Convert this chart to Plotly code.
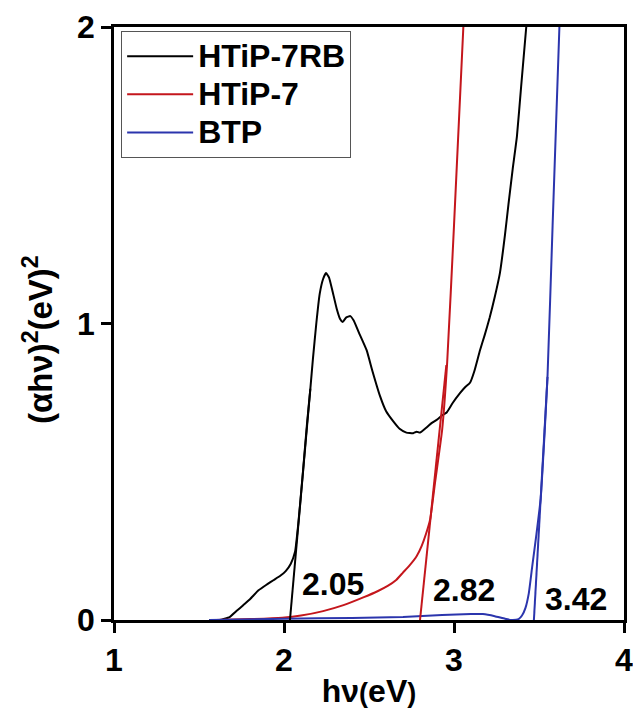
import plotly.graph_objects as go

# HTiP-7RB (black)
x_htip7rb = [1.56, 1.62, 1.68, 1.72, 1.76, 1.80, 1.85, 1.90, 1.94, 1.98, 2.01, 2.04, 2.065, 2.085,
             2.11, 2.135, 2.155, 2.17, 2.19, 2.21, 2.23, 2.247, 2.265, 2.285, 2.31, 2.33, 2.345,
             2.365, 2.39, 2.41, 2.44, 2.486, 2.52, 2.565, 2.60, 2.643, 2.68, 2.72, 2.76, 2.78,
             2.80, 2.84, 2.87, 2.898, 2.93, 2.957, 2.99, 3.035, 3.065, 3.094, 3.12, 3.153, 3.18,
             3.21, 3.24, 3.27, 3.30, 3.32, 3.345, 3.37, 3.395, 3.425]
y_htip7rb = [0.0, 0.0, 0.01, 0.03, 0.05, 0.07, 0.10, 0.12, 0.135, 0.15, 0.165, 0.19, 0.23, 0.33,
             0.49, 0.66, 0.78, 0.88, 1.00, 1.10, 1.15, 1.17, 1.155, 1.11, 1.05, 1.015, 1.005,
             1.02, 1.025, 1.01, 0.97, 0.91, 0.84, 0.755, 0.705, 0.67, 0.645, 0.632, 0.63, 0.635,
             0.632, 0.65, 0.665, 0.675, 0.69, 0.70, 0.73, 0.765, 0.785, 0.80, 0.84, 0.91, 0.96,
             1.02, 1.09, 1.17, 1.30, 1.40, 1.52, 1.63, 1.80, 2.0]

# HTiP-7 (red)
x_htip7 = [1.60, 1.80, 1.99, 2.10, 2.23, 2.35, 2.47, 2.55, 2.61, 2.66, 2.70, 2.74, 2.78, 2.81,
           2.835, 2.86, 2.89, 2.93, 2.96, 3.00, 3.055]
y_htip7 = [0.0, 0.003, 0.008, 0.015, 0.03, 0.05, 0.077, 0.097, 0.115, 0.135, 0.16, 0.185, 0.215,
           0.25, 0.29, 0.34, 0.47, 0.64, 0.87, 1.33, 2.0]

# BTP (blue)
x_btp = [1.56, 2.0, 2.40, 2.70, 2.93, 3.10, 3.17, 3.24, 3.30, 3.34, 3.38, 3.40, 3.42, 3.44, 3.46,
         3.485, 3.51, 3.53, 3.55, 3.58, 3.62]
y_btp = [0.0, 0.004, 0.007, 0.01, 0.017, 0.02, 0.02, 0.013, 0.004, 0.0, 0.003, 0.015, 0.04, 0.09,
         0.18, 0.29, 0.41, 0.60, 0.82, 1.33, 2.0]

# Tangent (band-gap extrapolation) lines
fit_x_htip7rb = [2.035, 2.155]
fit_y_htip7rb = [0.0, 0.78]
fit_x_htip7 = [2.80, 2.955]
fit_y_htip7 = [0.0, 0.86]
fit_x_btp = [3.47, 3.55]
fit_y_btp = [0.0, 0.82]

# Band-gap labels
gap_labels = ["2.05", "2.82", "3.42"]
gap_label_x = [2.29, 3.06, 3.72]
gap_label_y = [0.12, 0.10, 0.07]

BLACK = "#000000"
RED = "#c4161c"
BLUE = "#2b35ad"
FONT = "Liberation Sans, Arial, sans-serif"
FS = 32

fig = go.Figure()
for xs, ys, nm, c in [(x_htip7rb, y_htip7rb, "HTiP-7RB", BLACK),
                      (x_htip7, y_htip7, "HTiP-7", RED),
                      (x_btp, y_btp, "BTP", BLUE)]:
    fig.add_trace(go.Scatter(x=xs, y=ys, mode="lines",
                             name=f"<span style='font-size:{FS}px'>{nm}</span>",
                             line=dict(color=c, width=2, shape="spline", smoothing=0.4)))
for fx, fy, c in [(fit_x_htip7rb, fit_y_htip7rb, BLACK), (fit_x_htip7, fit_y_htip7, RED),
                  (fit_x_btp, fit_y_btp, BLUE)]:
    fig.add_trace(go.Scatter(x=fx, y=fy, mode="lines", showlegend=False,
                             line=dict(color=c, width=2)))

for t, x, y in zip(gap_labels, gap_label_x, gap_label_y):
    fig.add_annotation(x=x, y=y, text=t, showarrow=False,
                       font=dict(family=FONT, size=FS, color="black", weight="bold"))

# Y-axis title placed as rotated text
fig.add_annotation(xref="paper", yref="paper", x=-0.149, y=0.472,
                   text="(αhν)<sup>2</sup>(eV)<sup>2</sup>", textangle=-90, showarrow=False,
                   xanchor="center", yanchor="middle",
                   font=dict(family=FONT, size=33, color="black", weight="bold"))

axis_common = dict(showline=True, linecolor="black", linewidth=2.5, mirror=True,
                   ticks="outside", ticklen=10, tickwidth=2.5, tickcolor="black",
                   showgrid=False, zeroline=False, automargin=False,
                   ticklabeloverflow="allow",
                   tickfont=dict(family=FONT, size=FS, color="black", weight="bold"))

fig.update_layout(
    width=633, height=709,
    margin=dict(l=114, r=9, t=27, b=89),
    paper_bgcolor="white", plot_bgcolor="white",
    xaxis=dict(range=[1, 4], tickvals=[1, 2, 3, 4],
               title=dict(text="hν<span style='font-size:27px'>(</span>eV<span style='font-size:27px'>)</span>",
                          standoff=4,
                          font=dict(family=FONT, size=FS, color="black", weight="bold")),
               **axis_common),
    yaxis=dict(range=[0, 2], tickvals=[0, 1, 2], **axis_common),
    legend=dict(x=0.014, y=0.993, xanchor="left", yanchor="top",
                bordercolor="#555555", borderwidth=1, bgcolor="white",
                itemwidth=66, tracegroupgap=0,
                font=dict(family=FONT, size=27, color="black", weight="bold")),
    showlegend=True,
)

fig.write_html("out.html")
